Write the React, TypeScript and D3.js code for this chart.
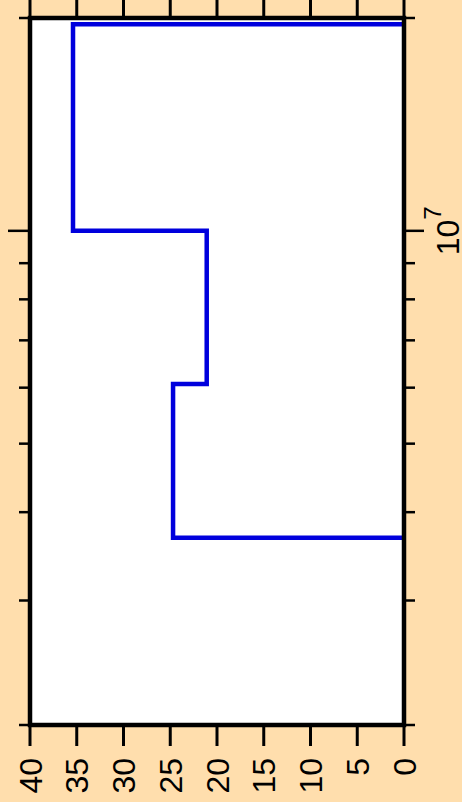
import * as d3 from "d3";
import React from "react";

// counts axis runs right-to-left, values axis is log
const countTicks = [40, 35, 30, 25, 20, 15, 10, 5, 0];
const binEdges = [3.68e6, 6.07e6, 1.0e7, 1.96e7];
const binCounts = [24.7, 21.1, 35.4];
const majorTicks = [1e7];
const minorTicks = [2e6, 3e6, 4e6, 5e6, 6e6, 7e6, 8e6, 9e6, 2e7];

const W = 462;
const H = 802;
const font = "'Liberation Sans', Arial, Helvetica, sans-serif";

export default function App() {
	const left = 30;
	const right = 404;
	const top = 18;
	const bottom = 725;

	const x = d3.scaleLinear().domain([40, 0]).range([left, right]);
	const y = d3.scaleLog().domain([2e6, 2e7]).range([bottom, top]);

	// step outline of the histogram
	const pts: [number, number][] = [[0, binEdges[0]]];
	binCounts.forEach((c, i) => {
		pts.push([c, binEdges[i]]);
		pts.push([c, binEdges[i + 1]]);
	});
	pts.push([0, binEdges[binEdges.length - 1]]);

	const line = d3
		.line<[number, number]>()
		.x((d) => x(d[0]))
		.y((d) => y(d[1]));

	return (
		<svg
			width={W}
			height={H}
			style={{ position: "absolute", left: 0, top: 0, display: "block" }}
		>
			<rect width={W} height={H} fill="#ffdead" />
			<defs>
				<clipPath id="plot">
					<rect x={left} y={top} width={right - left} height={bottom - top} />
				</clipPath>
			</defs>
			<rect x={left} y={top} width={right - left} height={bottom - top} fill="#fff" />

			<path
				d={line(pts) ?? ""}
				fill="none"
				stroke="#0000dd"
				strokeWidth={4.5}
				clipPath="url(#plot)"
			/>

			{/* count ticks, top and bottom */}
			{countTicks.map((t) => (
				<g key={t}>
					<line x1={x(t)} x2={x(t)} y1={-2} y2={top} stroke="#000" strokeWidth={3} />
					<line x1={x(t)} x2={x(t)} y1={bottom} y2={bottom + 21} stroke="#000" strokeWidth={3} />
					<text
						transform={`translate(${x(t)},758) rotate(-90)`}
						textAnchor="end"
						dy="0.36em"
						fontSize={32}
						fontFamily={font}
						fill="#000"
					>
						{t}
					</text>
				</g>
			))}

			{/* log ticks, left and right */}
			{minorTicks.map((t) => (
				<g key={t}>
					<line x1={left - 11} x2={left} y1={y(t)} y2={y(t)} stroke="#000" strokeWidth={2.5} />
					<line x1={right} x2={right + 11} y1={y(t)} y2={y(t)} stroke="#000" strokeWidth={2.5} />
				</g>
			))}
			{majorTicks.map((t) => (
				<g key={t}>
					<line x1={left - 22} x2={left} y1={y(t)} y2={y(t)} stroke="#000" strokeWidth={2.5} />
					<line x1={right} x2={right + 20} y1={y(t)} y2={y(t)} stroke="#000" strokeWidth={2.5} />
					<text
						transform={`translate(447,${y(t)}) rotate(-90)`}
						textAnchor="middle"
						dy="0.36em"
						fontSize={32}
						fontFamily={font}
						fill="#000"
					>
						10
						<tspan fontSize={24} dy={-18}>
							{Math.round(Math.log10(t))}
						</tspan>
					</text>
				</g>
			))}

			<rect
				x={left}
				y={top}
				width={right - left}
				height={bottom - top}
				fill="none"
				stroke="#000"
				strokeWidth={4.5}
			/>
		</svg>
	);
}
